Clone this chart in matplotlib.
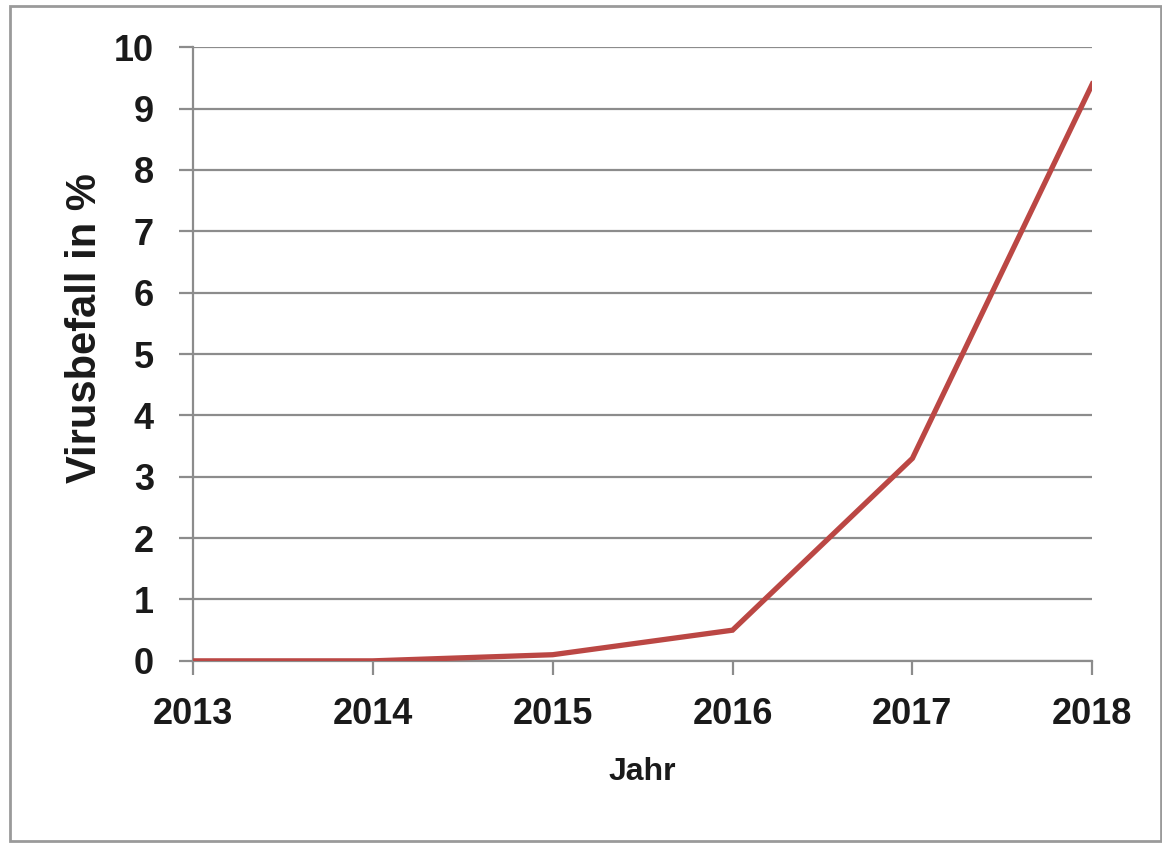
import matplotlib
matplotlib.use('Agg')
import matplotlib.pyplot as plt
from matplotlib.patches import Rectangle

# Data
years = [2013, 2014, 2015, 2016, 2017, 2018]
befall = [0.0, 0.0, 0.1, 0.5, 3.3, 9.4]
y_ticks = list(range(0, 11))

plt.rcParams['font.family'] = ['Liberation Sans', 'DejaVu Sans']
plt.rcParams['font.weight'] = 'bold'

fig = plt.figure(figsize=(11.62, 8.44), dpi=100)
ax = fig.add_axes([0.166, 0.217, 0.774, 0.727])

grid_color = '#8c8c8c'
ax.plot(years, befall, color='#bb4744', linewidth=3.8, solid_joinstyle='miter', zorder=3)

ax.set_xlim(2013, 2018)
ax.set_ylim(0, 10)
ax.set_xticks(years)
ax.set_yticks(y_ticks)
ax.grid(axis='y', color=grid_color, linewidth=1.6)
ax.set_axisbelow(True)

for side in ['top', 'right']:
    ax.spines[side].set_visible(False)
for side in ['left', 'bottom']:
    ax.spines[side].set_color(grid_color)
    ax.spines[side].set_linewidth(1.6)

ax.tick_params(axis='both', colors=grid_color, width=1.6, length=10, labelcolor='#1a1a1a',
               labelsize=26)
ax.tick_params(axis='x', pad=16)
ax.tick_params(axis='y', pad=18)
for lbl in ax.get_xticklabels() + ax.get_yticklabels():
    lbl.set_fontweight('bold')

ax.set_xlabel('Jahr', fontsize=23, fontweight='bold', color='#1a1a1a', labelpad=18)
ax.set_ylabel('Virusbefall in %', fontsize=30, fontweight='bold', color='#1a1a1a')
# reference label sits a bit above the axes centre
ax.yaxis.set_label_coords(-0.098, 0.542)

# outer chart border
fig.patches.append(Rectangle((0.009, 0.003), 0.99, 0.99, transform=fig.transFigure,
                             fill=False, edgecolor='#9a9a9a', linewidth=2.0))

fig.savefig('out.png', dpi=100)
